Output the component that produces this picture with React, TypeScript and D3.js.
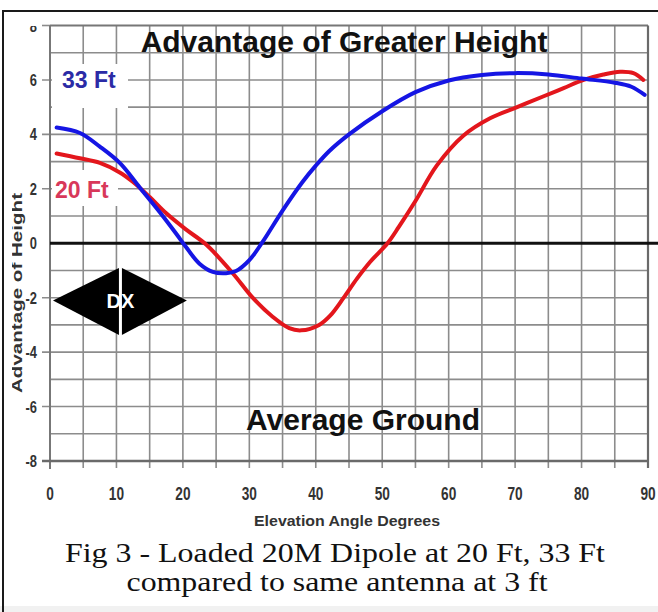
import React from 'react';
import * as d3 from 'd3';

const xTicks = [0, 10, 20, 30, 40, 50, 60, 70, 80, 90];
const yTicks = [-8, -6, -4, -2, 0, 2, 4, 6, 8];
const xGrid = [5, 10, 15, 20, 25, 30, 35, 40, 45, 50, 55, 60, 65, 70, 75, 80, 85];
const yGrid = [-7, -6, -5, -4, -3, -2, -1, 1, 2, 3, 4, 5, 6, 7];

const angles33 = [1, 4.5, 7.5, 10.5, 13.5, 16.5, 19, 20.5, 22.5, 24.5, 26.5, 28, 30, 32, 35, 38, 40, 42, 45, 50, 55, 60, 65, 70, 75, 80, 85, 87.5, 89.5];
const gain33 = [4.25, 4.05, 3.55, 2.95, 2.05, 1.15, 0.35, -0.15, -0.75, -1.05, -1.1, -1.02, -0.62, 0.05, 1.2, 2.25, 2.85, 3.38, 4.0, 4.85, 5.55, 5.98, 6.18, 6.25, 6.2, 6.05, 5.9, 5.75, 5.45];

const angles20 = [1, 4.5, 7.5, 10.5, 12.5, 15, 17.5, 20.5, 23.5, 27.5, 30.5, 33.5, 36, 37.8, 40.5, 42.2, 44.2, 46.2, 48.2, 50.8, 52.5, 55, 58.2, 62.2, 66.3, 70.3, 74.3, 77.3, 80.3, 83.3, 85.8, 87.8, 89.3];
const gain20 = [3.3, 3.12, 2.95, 2.6, 2.25, 1.7, 1.1, 0.5, -0.05, -1.1, -2.0, -2.7, -3.12, -3.2, -3.0, -2.65, -2.0, -1.3, -0.68, 0, 0.6, 1.55, 2.85, 3.95, 4.6, 5.0, 5.4, 5.7, 6.0, 6.2, 6.3, 6.25, 6.0];

const seriesNames = ['33 Ft', '20 Ft'];
const titleText = 'Advantage of Greater Height';
const groundText = 'Average Ground';
const xAxisTitle = 'Elevation Angle Degrees';
const yAxisTitle = 'Advantage of Height';
const captionLines = ['Fig 3 - Loaded 20M Dipole at 20 Ft, 33 Ft', 'compared to same antenna at 3 ft'];

const SANS = '"Liberation Sans", Arial, sans-serif';
const SERIF = '"Liberation Serif", "Times New Roman", serif';

export default function App() {
  const W = 658, H = 612;
  const x = d3.scaleLinear().domain([0, 90]).range([50, 648]);
  const y = d3.scaleLinear().domain([-8, 8]).range([461, 25.5]);
  const line = d3.line<[number, number]>().x(d => x(d[0])).y(d => y(d[1])).curve(d3.curveCatmullRom.alpha(0.5));
  const d33 = line(angles33.map((a, i) => [a, gain33[i]] as [number, number])) || '';
  const d20 = line(angles20.map((a, i) => [a, gain20[i]] as [number, number])) || '';
  const grid = '#8c8c8c';
  const narrow = 0.76;

  // DX diamond geometry from scales
  const dl = x(0.45), dr = x(20.6), dc = x(10.6);
  const dt = y(-0.88), db = y(-3.4), dm = y(-2.1);

  return (
    <svg width={W} height={H} style={{ position: 'absolute', left: 0, top: 0, background: '#fff' }}>
      <defs>
        <clipPath id="clip8"><rect x={-40} y={-5.5} width={80} height={20} /></clipPath>
        <clipPath id="clipY"><rect x={12} y={150} width={30} height={300} /></clipPath>
      </defs>
      <rect x={0} y={0} width={W} height={H} fill="#fff" />
      <rect x={0} y={606} width={W} height={6} fill="#f1f1f1" />
      {/* outer frame */}
      <line x1={2} x2={W} y1={11} y2={11} stroke="#1a1a1a" strokeWidth={2} />
      <line x1={3} x2={3} y1={10} y2={H} stroke="#1a1a1a" strokeWidth={2} />

      {/* grid */}
      {xGrid.map(v => (
        <line key={'vx' + v} x1={x(v)} x2={x(v)} y1={y(8)} y2={y(-8) + 7} stroke={grid} strokeWidth={1.6} />
      ))}
      {yGrid.map(v => (
        <line key={'hy' + v} x1={x(0) - (v % 2 === 0 ? 8 : 0)} x2={x(90)} y1={y(v)} y2={y(v)} stroke={grid} strokeWidth={1.6} />
      ))}
      {/* frame */}
      <line x1={x(0)} x2={x(90)} y1={y(8)} y2={y(8)} stroke="#777" strokeWidth={1.8} />
      <line x1={x(0) - 8} x2={x(0)} y1={y(8)} y2={y(8)} stroke={grid} strokeWidth={1.6} />
      <line x1={x(0)} x2={x(0)} y1={y(8)} y2={y(-8) + 8} stroke="#777" strokeWidth={2} />
      <line x1={x(90)} x2={x(90)} y1={y(8)} y2={y(-8) + 7} stroke="#6a6a6a" strokeWidth={2.2} />
      <line x1={x(0) - 8} x2={x(90)} y1={y(-8)} y2={y(-8)} stroke="#6a6a6a" strokeWidth={2.6} />

      {/* series label boxes */}
      <rect x={52} y={64} width={76} height={44} fill="#fff" />
      <rect x={52} y={170} width={66} height={36} fill="#fff" />

      {/* zero line */}
      <line x1={x(0)} x2={W} y1={y(0)} y2={y(0)} stroke="#111" strokeWidth={3} />

      {/* curves */}
      <path d={d20} fill="none" stroke="#e3161c" strokeWidth={4} strokeLinejoin="round" strokeLinecap="round" />
      <path d={d33} fill="none" stroke="#1515e4" strokeWidth={4} strokeLinejoin="round" strokeLinecap="round" />

      {/* DX diamond */}
      <polygon points={`${dl},${dm} ${dc},${dt} ${dr},${dm} ${dc},${db}`} fill="#000" />
      <line x1={dc} x2={dc} y1={dt - 2} y2={db + 2} stroke="#fff" strokeWidth={3} />
      <text x={dc} y={308} textAnchor="middle" fill="#fff" fontFamily={SANS} fontWeight="bold" fontSize={20}>DX</text>

      {/* series labels */}
      <text x={62} y={88} fill="#2b2ba6" fontFamily={SANS} fontWeight="bold" fontSize={23}>{seriesNames[0]}</text>
      <text x={55} y={198} fill="#d8385a" fontFamily={SANS} fontWeight="bold" fontSize={23}>{seriesNames[1]}</text>

      {/* titles */}
      <text x={344} y={52} textAnchor="middle" fill="#111" fontFamily={SANS} fontWeight="bold" fontSize={30}>{titleText}</text>
      <text x={363} y={430} textAnchor="middle" fill="#111" fontFamily={SANS} fontWeight="bold" fontSize={30}>{groundText}</text>

      {/* y tick labels */}
      {yTicks.map(v => (
        <g key={'yt' + v} transform={`translate(37,${y(v) + 6}) scale(${narrow},1)`}>
          <text x={0} y={0} textAnchor="end" fill="#333" fontFamily={SANS} fontWeight="bold" fontSize={17}
            clipPath={v === 8 ? 'url(#clip8)' : undefined}>{v}</text>
        </g>
      ))}
      {/* x tick labels */}
      {xTicks.map(v => (
        <g key={'xt' + v} transform={`translate(${x(v)},500) scale(${narrow},1)`}>
          <text x={0} y={0} textAnchor="middle" fill="#333" fontFamily={SANS} fontWeight="bold" fontSize={18}>{v}</text>
        </g>
      ))}
      <text x={347} y={526} textAnchor="middle" fill="#333" fontFamily={SANS} fontWeight="bold" fontSize={15}
        textLength={186} lengthAdjust="spacingAndGlyphs">{xAxisTitle}</text>
      <g clipPath="url(#clipY)">
        <text transform="translate(22,293) rotate(-90)" textAnchor="middle" fill="#333" fontFamily={SANS} fontWeight="bold" fontSize={15}
          textLength={200} lengthAdjust="spacingAndGlyphs">{yAxisTitle}</text>
      </g>

      {/* caption */}
      <text x={335} y={562} textAnchor="middle" fill="#111" fontFamily={SERIF} fontSize={28}
        textLength={540} lengthAdjust="spacingAndGlyphs">{captionLines[0]}</text>
      <text x={337} y={591} textAnchor="middle" fill="#111" fontFamily={SERIF} fontSize={28}
        textLength={421} lengthAdjust="spacingAndGlyphs">{captionLines[1]}</text>
    </svg>
  );
}
